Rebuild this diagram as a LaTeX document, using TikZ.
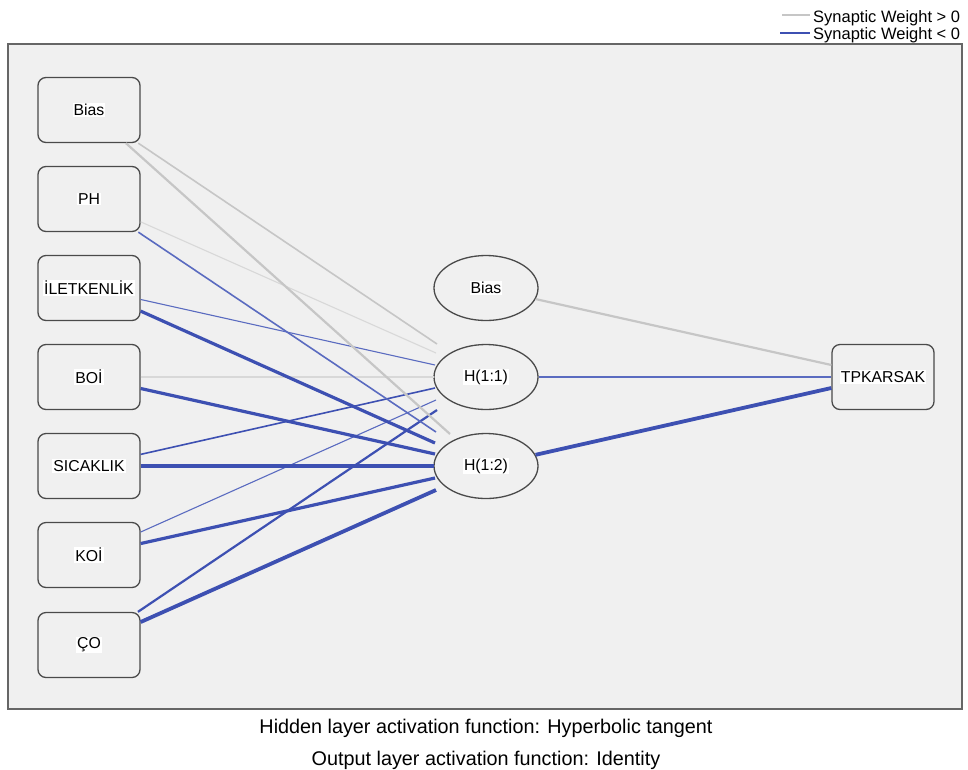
\documentclass[tikz,border=0pt]{standalone}
\usepackage{fontspec}
\setmainfont{Liberation Sans}
\usetikzlibrary{shapes.geometric,calc}
\definecolor{panelbg}{HTML}{F0F0F0}
\definecolor{panelframe}{HTML}{666666}
\definecolor{boxframe}{HTML}{4A4A4A}
\definecolor{posw}{HTML}{C6C6C6}
\definecolor{poswl}{HTML}{D8D8D8}
\definecolor{negw}{HTML}{3D50B2}
\definecolor{negwl}{HTML}{5A6BC0}
\setlength{\fboxsep}{1pt}
\newcommand{\lbl}[1]{\colorbox{white}{\fontsize{15.8}{18}\selectfont #1}}
\tikzset{
  inbox/.style={draw=boxframe, line width=1.3pt, fill=panelbg, rounded corners=8pt,
    minimum width=102pt, minimum height=65pt, inner sep=0pt},
  hid/.style={draw=boxframe, line width=1.3pt, fill=panelbg, ellipse,
    minimum width=104pt, minimum height=65pt, inner sep=0pt},
  wpos/.style={draw=posw},
  wposl/.style={draw=poswl},
  wneg/.style={draw=negw},
  wnegl/.style={draw=negwl},
  w1/.style={line width=1.1pt},
  w2/.style={line width=1.6pt},
  w3/.style={line width=2.2pt},
  w4/.style={line width=3.2pt},
  w5/.style={line width=3.8pt},
  legtext/.style={anchor=base west, inner sep=0pt, font=\fontsize{16.5}{18}\selectfont},
  foot/.style={anchor=base, inner sep=0pt, font=\fontsize{19.8}{23}\selectfont},
}
\begin{document}
\begin{tikzpicture}[x=1pt,y=-1pt]
\useasboundingbox (0,0) rectangle (968,769);
\fill[white] (0,0) rectangle (968,769);
% panel
\draw[draw=panelframe, fill=panelbg, line width=2.2pt] (8,44) rectangle (962,709);

% legend
\coordinate (lg1a) at (782,15); \coordinate (lg1b) at (810,15);
\coordinate (lg2a) at (780,33); \coordinate (lg2b) at (810,33);
\draw[wpos, w1] (lg1a) -- (lg1b);
\draw[wneg, w2] (lg2a) -- (lg2b);
\node[legtext] (leg1) at (813,22) {Synaptic Weight > 0};
\node[legtext] (leg2) at (813,39) {Synaptic Weight < 0};

% input layer
\node[inbox] (ib) at (89,110) {\lbl{Bias}};
\node[inbox] (ph) at (89,199) {\lbl{PH}};
\node[inbox] (il) at (89,288) {\lbl{İLETKENLİK}};
\node[inbox] (bo) at (89,377) {\lbl{BOİ}};
\node[inbox] (si) at (89,466) {\lbl{SICAKLIK}};
\node[inbox] (ko) at (89,555) {\lbl{KOİ}};
\node[inbox] (co) at (89,645) {\lbl{ÇO}};

% hidden layer
\node[hid] (hb) at (486,288) {\lbl{Bias}};
\node[hid] (h1) at (486,377) {\lbl{H(1:1)}};
\node[hid] (h2) at (486,466) {\lbl{H(1:2)}};

% output layer
\node[inbox] (out) at (883,377) {\lbl{TPKARSAK}};

% end points beside the hidden units
\coordinate (e1a) at ($(h1)+(-49,-33)$);
\coordinate (e1b) at ($(h1)+(-50,-24)$);
\coordinate (e1c) at ($(h1)+(-51,-12)$);
\coordinate (e1d) at ($(h1)+(-52,0)$);
\coordinate (e1e) at ($(h1)+(-51,11)$);
\coordinate (e1f) at ($(h1)+(-50,23)$);
\coordinate (e1g) at ($(h1)+(-49,33)$);
\coordinate (e2a) at ($(h2)+(-36,-32)$);
\coordinate (e2b) at ($(h2)+(-50,-34)$);
\coordinate (e2c) at ($(h2)+(-51,-23)$);
\coordinate (e2d) at ($(h2)+(-51,-12)$);
\coordinate (e2e) at ($(h2)+(-52,0)$);
\coordinate (e2f) at ($(h2)+(-51,12)$);
\coordinate (e2g) at ($(h2)+(-50,24)$);
\coordinate (eoa) at ($(out.west)+(0,-12)$);
\coordinate (eob) at ($(out.west)+(0,0)$);
\coordinate (eoc) at ($(out.west)+(0,11)$);

% input -> H(1:1)
\draw[wpos, w2] (ib) -- (e1a);
\draw[wposl, w1] (ph) -- (e1b);
\draw[wnegl, w1] (il) -- (e1c);
\draw[wposl, w2] (bo) -- (e1d);
\draw[wneg, w2] (si) -- (e1e);
\draw[wnegl, w1] (ko) -- (e1f);
\draw[wneg, w3] (co) -- (e1g);
% input -> H(1:2)
\draw[wpos, w3] (ib) -- (e2a);
\draw[wnegl, w2] (ph) -- (e2b);
\draw[wneg, w4] (il) -- (e2c);
\draw[wneg, w4] (bo) -- (e2d);
\draw[wneg, w4] (si) -- (e2e);
\draw[wneg, w4] (ko) -- (e2f);
\draw[wneg, w5] (co) -- (e2g);
% hidden -> output
\draw[wpos, w3] (hb) -- (eoa);
\draw[wnegl, w1] (h1) -- (eob);
\draw[wneg, w5] (h2) -- (eoc);

% footer
\node[foot] (f1) at (486,733) {Hidden layer activation function: Hyperbolic tangent};
\node[foot] (f2) at (486,765) {Output layer activation function: Identity};
\end{tikzpicture}
\end{document}
